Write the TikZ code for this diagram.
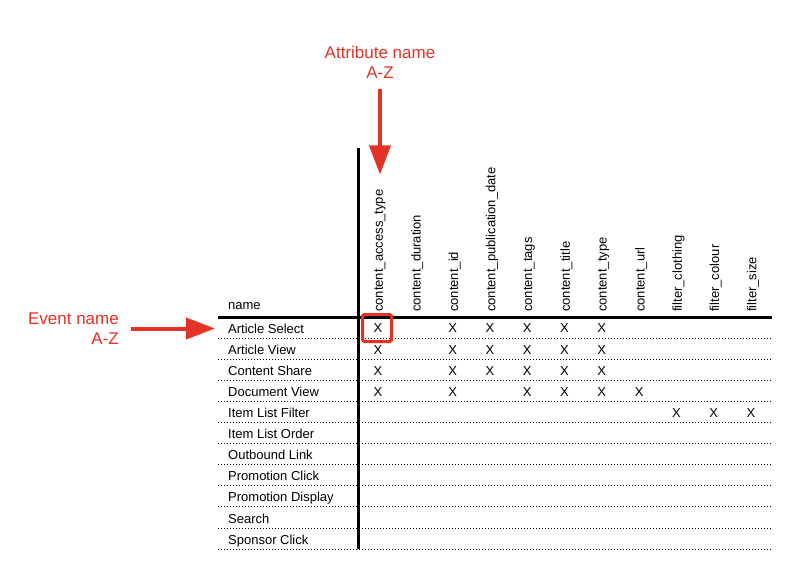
\documentclass[tikz,border=0pt]{standalone}
\usepackage{fontspec}
\setmainfont{Liberation Sans}
\usetikzlibrary{arrows.meta}
\definecolor{annored}{RGB}{227,50,38}

\begin{document}
\begin{tikzpicture}[x=1pt,y=-1pt,
    rowlab/.style={anchor=west,inner sep=0pt,text height=9.3pt,text depth=0pt,font=\fontsize{13}{15}\selectfont},
    collab/.style={rotate=90,anchor=west,inner sep=0pt,font=\fontsize{13}{15}\selectfont},
    xcell/.style={inner sep=0pt,font=\fontsize{13}{15}\selectfont},
    annot/.style={inner sep=0pt,text=annored,font=\fontsize{17}{20}\selectfont},
    redarrow/.style={draw=annored,line width=4pt,-{Triangle[length=29pt,width=21pt]}},
    selbox/.style={draw=annored,line width=3pt,rounded corners=1.5pt,minimum width=29pt,minimum height=27pt,inner sep=0pt},
    rule/.style={line width=3pt},
    dotrule/.style={line width=1pt,dash pattern=on 1pt off 2pt}]
                \useasboundingbox (0,0) rectangle (800,587);

                \node[annot,align=center] (attr) at (380,62) {Attribute name\\A-Z};
                \node[annot,align=right,anchor=east] (evt) at (119,328.5) {Event name\\A-Z};

                \node[anchor=west,inner sep=0pt,font=\fontsize{13}{15}\selectfont] (hdr) at (228,306) {name};
                \node[rowlab] (evt1) at (228,328.5) {Article Select};
                \node[rowlab] (evt2) at (228,349.6) {Article View};
                \node[rowlab] (evt3) at (228,370.7) {Content Share};
                \node[rowlab] (evt4) at (228,391.8) {Document View};
                \node[rowlab] (evt5) at (228,412.9) {Item List Filter};
                \node[rowlab] (evt6) at (228,434) {Item List Order};
                \node[rowlab] (evt7) at (228,455.1) {Outbound Link};
                \node[rowlab] (evt8) at (228,476.2) {Promotion Click};
                \node[rowlab] (evt9) at (228,497.3) {Promotion Display};
                \node[rowlab] (evt10) at (228,518.4) {Search};
                \node[rowlab] (evt11) at (228,539.5) {Sponsor Click};

                \node[collab] (att1) at (380,312) {content\_access\_type};
                \node[collab] (att2) at (417.3,312) {content\_duration};
                \node[collab] (att3) at (454.6,312) {content\_id};
                \node[collab] (att4) at (491.9,312) {content\_publication\_date};
                \node[collab] (att5) at (529.2,312) {content\_tags};
                \node[collab] (att6) at (566.5,312) {content\_title};
                \node[collab] (att7) at (603.8,312) {content\_type};
                \node[collab] (att8) at (641.1,312) {content\_url};
                \node[collab] (att9) at (678.4,312) {filter\_clothing};
                \node[collab] (att10) at (715.7,312) {filter\_colour};
                \node[collab] (att11) at (753,312) {filter\_size};

                \node[xcell] (x1c1) at (378,328.5) {X}; \node[xcell] (x1c3) at (452.6,328.5) {X};
                \node[xcell] (x1c4) at (489.9,328.5) {X}; \node[xcell] (x1c5) at (527.2,328.5) {X};
                \node[xcell] (x1c6) at (564.5,328.5) {X}; \node[xcell] (x1c7) at (601.8,328.5) {X};
                \node[xcell] (x2c1) at (378,349.6) {X}; \node[xcell] (x2c3) at (452.6,349.6) {X};
                \node[xcell] (x2c4) at (489.9,349.6) {X}; \node[xcell] (x2c5) at (527.2,349.6) {X};
                \node[xcell] (x2c6) at (564.5,349.6) {X}; \node[xcell] (x2c7) at (601.8,349.6) {X};
                \node[xcell] (x3c1) at (378,370.7) {X}; \node[xcell] (x3c3) at (452.6,370.7) {X};
                \node[xcell] (x3c4) at (489.9,370.7) {X}; \node[xcell] (x3c5) at (527.2,370.7) {X};
                \node[xcell] (x3c6) at (564.5,370.7) {X}; \node[xcell] (x3c7) at (601.8,370.7) {X};
                \node[xcell] (x4c1) at (378,391.8) {X}; \node[xcell] (x4c3) at (452.6,391.8) {X};
                \node[xcell] (x4c5) at (527.2,391.8) {X}; \node[xcell] (x4c6) at (564.5,391.8) {X};
                \node[xcell] (x4c7) at (601.8,391.8) {X}; \node[xcell] (x4c8) at (639.1,391.8) {X};
                \node[xcell] (x5c9) at (676.4,412.9) {X}; \node[xcell] (x5c10) at (713.7,412.9) {X};
                \node[xcell] (x5c11) at (751,412.9) {X};

                \draw[dotrule] (218,338.1) -- (772,338.1); \draw[dotrule] (218,359.2) -- (772,359.2);
                \draw[dotrule] (218,380.3) -- (772,380.3); \draw[dotrule] (218,401.4) -- (772,401.4);
                \draw[dotrule] (218,422.5) -- (772,422.5); \draw[dotrule] (218,443.6) -- (772,443.6);
                \draw[dotrule] (218,464.7) -- (772,464.7); \draw[dotrule] (218,485.8) -- (772,485.8);
                \draw[dotrule] (218,506.9) -- (772,506.9); \draw[dotrule] (218,528) -- (772,528);
                \draw[dotrule] (218,549.1) -- (772,549.1);
                \draw[rule] (218,317) -- (772,317); \draw[rule] (358,148) -- (358,549);

                \node[selbox] (sel) at (377,328) {};
                \draw[redarrow,shorten <=11pt,shorten >=15pt] (attr) -- (att1);
                \draw[redarrow,shorten <=12pt,shorten >=13pt] (evt) -- (evt1);
            \end{tikzpicture}
\end{document}
